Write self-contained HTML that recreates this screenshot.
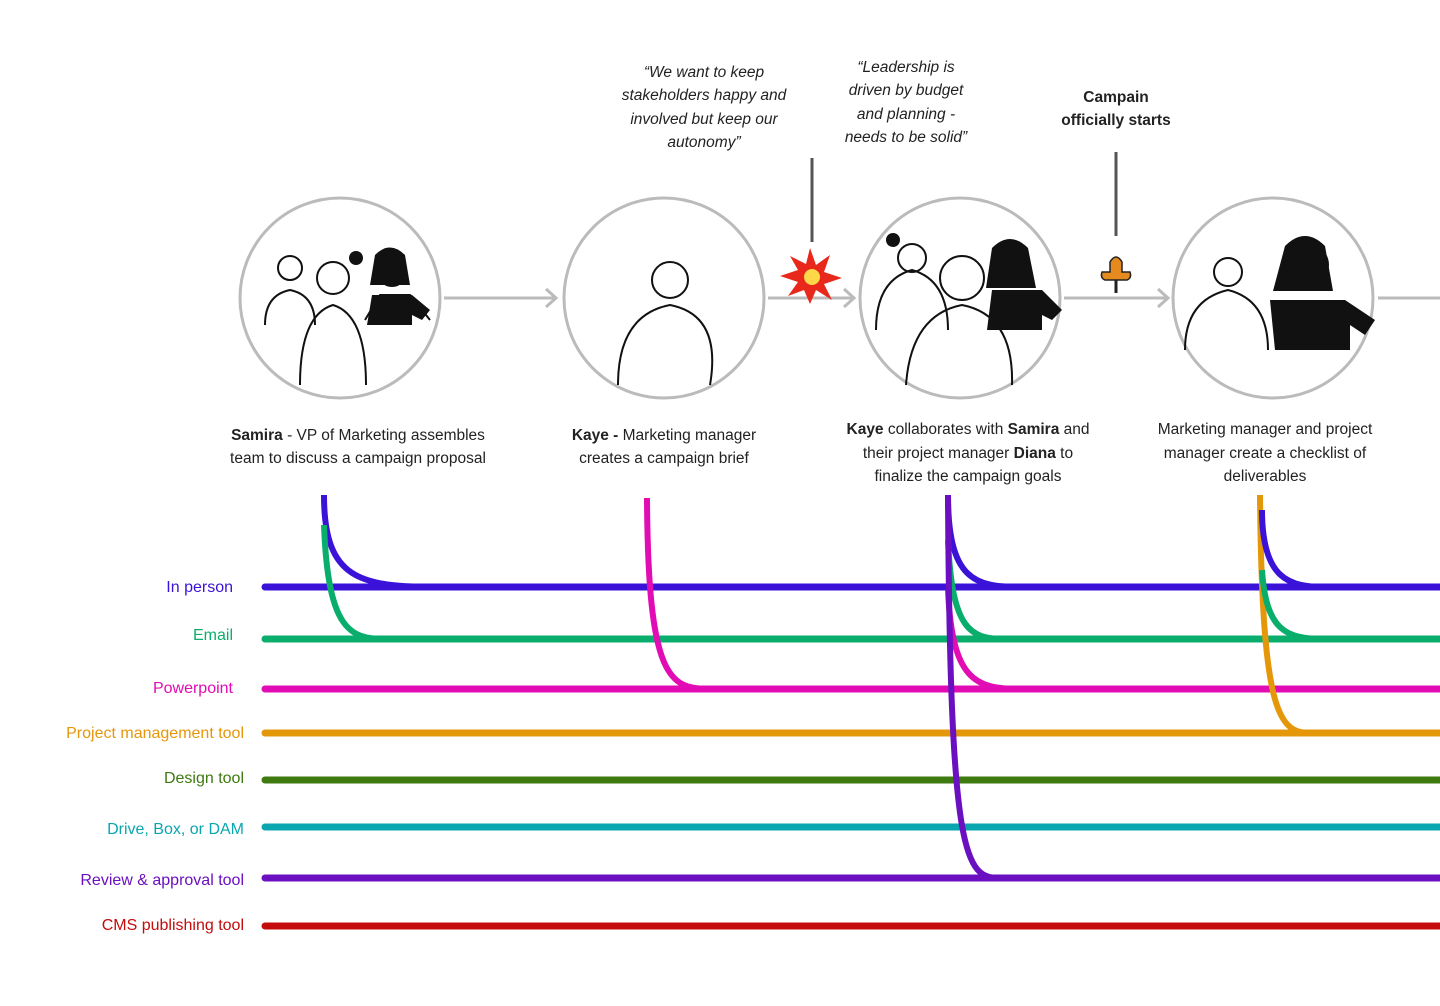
<!DOCTYPE html>
<html><head><meta charset="utf-8"><style>
html,body{margin:0;padding:0;background:#fff;width:1440px;height:1006px;overflow:hidden}
svg{display:block}
text{font-family:"Liberation Sans",sans-serif}
</style></head><body>
<svg width="1440" height="1006" viewBox="0 0 1440 1006" xmlns="http://www.w3.org/2000/svg">
<g font-size="15.5" fill="#222" text-anchor="middle" font-style="italic">
<text x="704" y="77">“We want to keep</text>
<text x="704" y="100">stakeholders happy and</text>
<text x="704" y="124">involved but keep our</text>
<text x="704" y="147">autonomy”</text>
<text x="906" y="72">“Leadership is</text>
<text x="906" y="95">driven by budget</text>
<text x="906" y="119">and planning -</text>
<text x="906" y="142">needs to be solid”</text>
</g>
<g font-size="15.5" fill="#222" text-anchor="middle" font-weight="bold">
<text x="1116" y="102">Campain</text>
<text x="1116" y="125">officially starts</text>
</g>
<line x1="812" y1="158" x2="812" y2="242" stroke="#555" stroke-width="3"/>
<line x1="1116" y1="152" x2="1116" y2="236" stroke="#555" stroke-width="3"/>
<g stroke="#bbb" stroke-width="3" fill="none">
<line x1="444" y1="298" x2="556" y2="298"/><polyline points="546,289 556,298 546,307"/>
<line x1="768" y1="298" x2="854" y2="298"/><polyline points="844,289 854,298 844,307"/>
<line x1="1064" y1="298" x2="1168" y2="298"/><polyline points="1158,289 1168,298 1158,307"/>
<line x1="1378" y1="298" x2="1440" y2="298"/>
<circle cx="340" cy="298" r="100"/>
<circle cx="664" cy="298" r="100"/>
<circle cx="960" cy="298" r="100"/>
<circle cx="1273" cy="298" r="100"/>
</g>
<polygon points="810,248 816,265 830,255 824,272 842,278 824,284 832,300 816,290 810,304 804,290 788,296 798,282 780,276 798,270 790,256 806,264" fill="#e8281b"/>
<circle cx="812" cy="277" r="8" fill="#ffd84a"/>
<path d="M1110 262 q6-10 12 0 v10 h8 q2 6-3 8 h-22 q-5-2-3-8 h8z" fill="#e58a1f" stroke="#222" stroke-width="1.5"/>
<line x1="1116" y1="280" x2="1116" y2="293" stroke="#222" stroke-width="3"/>
<g stroke="#111" stroke-width="2" fill="none">
<circle cx="290" cy="268" r="12"/><path d="M265 325 q0-30 25-35 q25 5 25 35"/>
<circle cx="333" cy="278" r="16"/><path d="M300 385 q0-70 33-80 q33 10 33 80"/>
<circle cx="392" cy="272" r="14"/><path d="M365 320 l15-25 h30 l20 25"/>
<circle cx="670" cy="280" r="18"/><path d="M618 385 q0-70 52-80 q52 10 40 80"/>
<circle cx="912" cy="258" r="14"/><path d="M876 330 q0-50 36-60 q36 10 36 60"/>
<circle cx="962" cy="278" r="22"/><path d="M906 385 q5-70 56-80 q52 10 50 80"/>
<circle cx="1010" cy="268" r="14"/>
<circle cx="1228" cy="272" r="14"/><path d="M1185 350 q0-50 43-60 q40 10 40 60"/>
<circle cx="1308" cy="265" r="20"/>
</g>
<path d="M1285 246 q20-20 40 0 l8 45 h-60z" fill="#111"/>
<path d="M1270 300 h75 l30 20 -10 15 -15-10 v25 h-75z" fill="#111"/>
<path d="M992 290 h50 l20 20 -10 10 -10-5 v15 h-55z" fill="#111"/>
<path d="M372 295 h40 l18 15 -8 10 -10-5 v10 h-45z" fill="#111"/>
<path d="M992 248 q18-18 36 0 l8 40 h-50z" fill="#111"/>
<path d="M375 255 q15-15 30 0 l5 30 h-40z" fill="#111"/>
<circle cx="356" cy="258" r="7" fill="#111"/>
<circle cx="893" cy="240" r="7" fill="#111"/>
<g font-size="15.5" fill="#222" text-anchor="middle">
<text x="358" y="440"><tspan font-weight="bold">Samira</tspan> - VP of Marketing assembles</text>
<text x="358" y="463">team to discuss a campaign proposal</text>
<text x="664" y="440"><tspan font-weight="bold">Kaye -</tspan> Marketing manager</text>
<text x="664" y="463">creates a campaign brief</text>
<text x="968" y="434"><tspan font-weight="bold">Kaye</tspan> collaborates with <tspan font-weight="bold">Samira</tspan> and</text>
<text x="968" y="458">their  project manager <tspan font-weight="bold">Diana</tspan> to</text>
<text x="968" y="481">finalize the campaign goals</text>
<text x="1265" y="434">Marketing manager and project</text>
<text x="1265" y="458">manager create a checklist of</text>
<text x="1265" y="481">deliverables</text>
</g>
<g font-size="16" text-anchor="end">
<text x="233" y="592" fill="#3a12d8">In person</text>
<text x="233" y="640" fill="#0aae6c">Email</text>
<text x="233" y="693" fill="#e20cb4">Powerpoint</text>
<text x="244" y="738" fill="#e5970a">Project management tool</text>
<text x="244" y="783" fill="#3f7a10">Design tool</text>
<text x="244" y="834" fill="#0aa6b0">Drive, Box, or DAM</text>
<text x="244" y="885" fill="#6a10c0">Review &amp; approval tool</text>
<text x="244" y="930" fill="#c40c0c">CMS publishing tool</text>
</g>
<g stroke-width="7" stroke-linecap="round" fill="none">
<line x1="265" y1="587" x2="1445" y2="587" stroke="#3a12d8"/>
<line x1="265" y1="639" x2="1445" y2="639" stroke="#0aae6c"/>
<line x1="265" y1="689" x2="1445" y2="689" stroke="#e20cb4"/>
<line x1="265" y1="733" x2="1445" y2="733" stroke="#e5970a"/>
<line x1="265" y1="780" x2="1445" y2="780" stroke="#3f7a10"/>
<line x1="265" y1="827" x2="1445" y2="827" stroke="#0aa6b0"/>
<line x1="265" y1="878" x2="1445" y2="878" stroke="#6a10c0"/>
<line x1="265" y1="926" x2="1445" y2="926" stroke="#c40c0c"/>
</g>
<g stroke-width="6" fill="none">
<path d="M324 495 C324 580 360 587 440 587" stroke="#3a12d8"/>
<path d="M324 525 C328 630 350 639 385 639" stroke="#0aae6c"/>
<path d="M647 498 C648 680 670 689 710 689" stroke="#e20cb4"/>
<path d="M948 495 C948 580 975 587 1020 587" stroke="#3a12d8"/>
<path d="M948 540 C952 630 970 639 1005 639" stroke="#0aae6c"/>
<path d="M948 590 C952 680 975 689 1020 689" stroke="#e20cb4"/>
<path d="M948 495 C950 860 965 878 1000 878" stroke="#6a10c0"/>
<path d="M1260 495 C1262 720 1280 733 1312 733" stroke="#e5970a"/>
<path d="M1262 510 C1262 580 1290 587 1325 587" stroke="#3a12d8"/>
<path d="M1262 570 C1266 630 1285 639 1325 639" stroke="#0aae6c"/>
</g>
</svg>
</body></html>
